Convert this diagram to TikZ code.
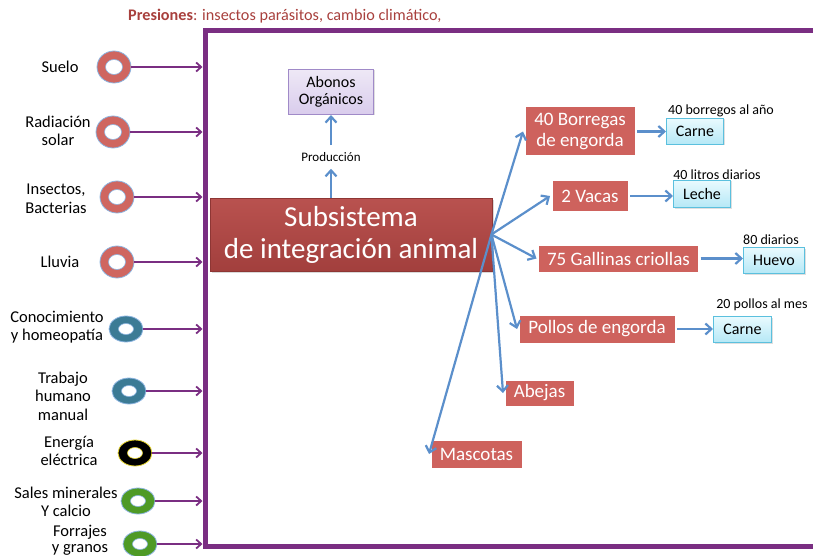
\documentclass[tikz,border=0pt]{standalone}
\usepackage{fontspec}
\setmainfont{Carlito}
\usetikzlibrary{arrows.meta,shadows,shapes.geometric}
\definecolor{framepurple}{HTML}{7A2E82}
\definecolor{boxred}{HTML}{CE625D}
\definecolor{maintop}{HTML}{B9524F}
\definecolor{mainbot}{HTML}{A23F3D}
\definecolor{mainedge}{HTML}{8E3634}
\definecolor{arrowblue}{HTML}{5B8FCB}
\definecolor{cyantop}{HTML}{E9FAFE}
\definecolor{cyanbot}{HTML}{B5E8F6}
\definecolor{cyanedge}{HTML}{5BC0DE}
\definecolor{lavtop}{HTML}{EEE8F6}
\definecolor{lavbot}{HTML}{D9CCEC}
\definecolor{lavedge}{HTML}{A08AC8}
\definecolor{titlered}{HTML}{A8403D}
\definecolor{ringred}{HTML}{CF6660}
\definecolor{ringteal}{HTML}{3C7B95}
\definecolor{ringgreen}{HTML}{4F9A26}
\definecolor{ringblue}{HTML}{8CB4E0}
\definecolor{ringyellow}{HTML}{E6D52E}
\tikzset{
  lbl/.style={align=center, inner sep=0pt, font=\fontsize{16.5}{18.5}\selectfont},
  ringbase/.style={ellipse, inner sep=0pt, line width=0.8pt},
  roundring/.style 2 args={ringbase, minimum width=34pt, minimum height=32pt, fill=#1, draw=#2,
    path picture={\filldraw[fill=white,draw=#2,line width=0.6pt] (path picture bounding box.center) ellipse [x radius=8.5pt, y radius=7.5pt];}},
  flatring/.style 2 args={ringbase, minimum width=34pt, minimum height=26pt, fill=#1, draw=#2,
    path picture={\filldraw[fill=white,draw=#2,line width=0.6pt] (path picture bounding box.center) ellipse [x radius=7.5pt, y radius=5.5pt];}},
  parrow/.style={draw=framepurple, line width=1.8pt, -{Straight Barb[length=5pt,width=9pt,line width=1.8pt]}},
  barrow/.style={draw=arrowblue, line width=2.2pt, -{Straight Barb[length=6pt,width=11pt,line width=2.2pt]}},
  redbox/.style={rectangle, fill=boxred, draw=white, line width=2.5pt, text=white, inner sep=0pt, align=center,
    font=\fontsize{19}{21}\selectfont, drop shadow={opacity=0.3, shadow xshift=1.5pt, shadow yshift=-1.5pt}},
  cyanbox/.style={rectangle, top color=cyantop, bottom color=cyanbot, draw=cyanedge, line width=1pt, inner sep=0pt,
    font=\fontsize{16}{18}\selectfont, drop shadow={opacity=0.25, shadow xshift=1pt, shadow yshift=-1pt}},
  note/.style={inner sep=0pt, font=\fontsize{14}{16}\selectfont},
}
\begin{document}
\begin{tikzpicture}[x=1pt,y=-1pt]
\useasboundingbox (0,0) rectangle (813,556);

% title
\node[anchor=west, inner sep=0pt, text=titlered, font=\fontsize{16.2}{18}\selectfont] (title) at (128,16) {\textbf{Presiones}: insectos parásitos, cambio climático,};

% frame
\draw[framepurple, line width=5pt, line join=miter] (840,30.5) -- (205,30.5) -- (205,546) -- (840,546);
\coordinate (frameL) at (202.5,300);

% input rings and labels
\node[roundring={ringred}{ringblue}] (suelo) at (114,67) {};
\node[lbl] (lsuelo) at (60,67) {Suelo};
\node[roundring={ringred}{ringblue}] (rad) at (113,132) {};
\node[lbl] (lrad) at (58,131) {Radiación\\solar};
\node[roundring={ringred}{ringblue}] (ins) at (117,197) {};
\node[lbl] (lins) at (56,199) {Insectos,\\Bacterias};
\node[roundring={ringred}{ringblue}] (lluv) at (117,262) {};
\node[lbl] (llluv) at (60,262) {Lluvia};
\node[flatring={ringteal}{ringblue}] (con) at (126,329) {};
\node[lbl] (lcon) at (57,327) {Conocimiento\\y homeopatía};
\node[flatring={ringteal}{ringblue}] (trab) at (129,391) {};
\node[lbl] (ltrab) at (63,396) {Trabajo\\humano\\manual};
\node[flatring={black}{ringyellow}] (ener) at (135,453) {};
\node[lbl] (lener) at (69,451) {Energía\\eléctrica};
\node[flatring={ringgreen}{ringblue}] (sales) at (138,501) {};
\node[lbl, font=\fontsize{16.5}{18}\selectfont] (lsales) at (66,502) {Sales minerales\\Y calcio};
\node[flatring={ringgreen}{ringblue}] (forr) at (140,544) {};
\node[lbl, font=\fontsize{16.5}{16.5}\selectfont] (lforr) at (80,540) {Forrajes\\y granos};

\foreach \r in {suelo,rad,ins,lluv,con,trab,ener,sales,forr}
  \draw[parrow] (\r) -- (\r -| frameL);

% main box
\node[rectangle, minimum width=282pt, minimum height=73pt, top color=maintop, bottom color=mainbot, draw=mainedge,
  line width=0.8pt, text=white, align=center, inner sep=0pt, font=\fontsize{29}{32}\selectfont,
  drop shadow={opacity=0.3, shadow xshift=1.5pt, shadow yshift=-1.5pt}] (main) at (351,234.5)
  {Subsistema\\de integración animal};
\coordinate (hub) at ([xshift=-1pt]main.east);

% abonos
\node[rectangle, minimum width=85pt, minimum height=45pt, top color=lavtop, bottom color=lavbot, draw=lavedge,
  line width=1pt, align=center, inner sep=0pt, font=\fontsize{16}{17}\selectfont,
  drop shadow={opacity=0.25, shadow xshift=1pt, shadow yshift=-1pt}] (abonos) at (331,92) {Abonos\\Orgánicos};
\node[inner sep=0pt, font=\fontsize{13}{15}\selectfont] (prod) at (331,157) {Producción};
\draw[barrow] (prod.south |- main.north) -- ([yshift=-7pt]prod.south);
\draw[barrow] ([yshift=7pt]prod.north) -- (abonos.south);

% animal boxes
\node[redbox, minimum width=111.5pt, minimum height=50.5pt] (borr) at (580,131.5) {40 Borregas\\de engorda};
\node[redbox, minimum width=77.5pt, minimum height=31.5pt] (vacas) at (590,196) {2 Vacas};
\node[redbox, minimum width=161.5pt, minimum height=28.5pt] (gall) at (618.5,258.5) {75 Gallinas criollas};
\node[redbox, minimum width=157.5pt, minimum height=29.5pt] (pollos) at (597,329) {Pollos de engorda};
\node[redbox, minimum width=70.5pt, minimum height=27.5pt] (abejas) at (539.5,393) {Abejas};
\node[redbox, minimum width=92.5pt, minimum height=29.5pt] (masc) at (476.5,454) {Mascotas};

% products
\node[cyanbox, minimum width=57pt, minimum height=26pt] (carne1) at (695,131.5) {Carne};
\node[cyanbox, minimum width=57pt, minimum height=27pt] (leche) at (702,194) {Leche};
\node[cyanbox, minimum width=61pt, minimum height=26pt] (huevo) at (774,260.5) {Huevo};
\node[cyanbox, minimum width=58pt, minimum height=26pt] (carne2) at (742.5,329.5) {Carne};

\node[note] (n1) at (721,111) {40 borregos al año};
\node[note] (n2) at (717,175) {40 litros diarios};
\node[note] (n3) at (771,240) {80 diarios};
\node[note] (n4) at (762,305) {20 pollos al mes};

% connectors
\foreach \t in {borr,vacas,gall,pollos,abejas,masc}
  \draw[barrow] (hub) -- (\t.west);
\draw[barrow] (borr.east) -- (borr.east -| carne1.west);
\draw[barrow] (vacas.east) -- (vacas.east -| leche.west);
\draw[barrow] (gall.east) -- (gall.east -| huevo.west);
\draw[barrow] (pollos.east) -- (pollos.east -| carne2.west);
\end{tikzpicture}
\end{document}
